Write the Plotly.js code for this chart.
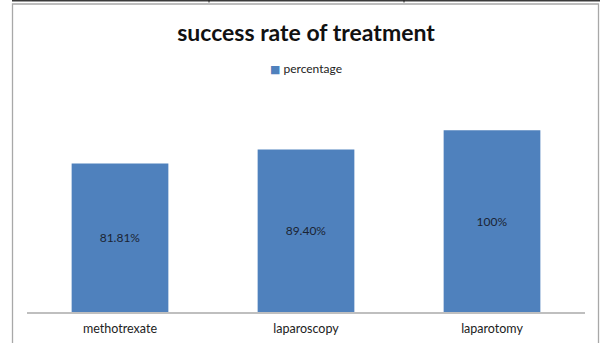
<!DOCTYPE html>
<html>
<head>
<meta charset="utf-8">
<script src="https://cdn.plot.ly/plotly-3.0.1.min.js"></script>
<style>
  html, body { margin: 0; padding: 0; background: #ffffff; }
  #chart { width: 604px; height: 343px; }
</style>
</head>
<body>
<div id="chart"></div>
<script>
// Treatment outcome data
const treatments = ['methotrexate', 'laparoscopy', 'laparotomy'];
const successRate = [81.81, 89.40, 100];
const seriesName = 'percentage';

const barColor = '#4F81BD';
const fontFamily = 'Lato, "Open Sans", sans-serif';

// Value labels shown inside each bar
const barLabels = successRate.map(v => (Number.isInteger(v) ? String(v) : v.toFixed(2)) + '%');

// Plot-area pixel geometry helpers (for the surrounding frame)
const W = 604, H = 343;
const M = { l: 27, r: 19, t: 94, b: 31 };
const plotW = W - M.l - M.r, plotH = H - M.t - M.b;
const px = x => (x - M.l) / plotW;
const py = y => (H - M.b - y) / plotH;

const traces = [
  {
    type: 'bar',
    x: treatments,
    y: successRate,
    name: seriesName,
    marker: { color: barColor, line: { width: 0 } },
    text: barLabels,
    textposition: 'inside',
    insidetextanchor: 'middle',
    textfont: { family: fontFamily, size: 12, color: '#1b2433' },
    hoverinfo: 'x+y'
  }
];

const layout = {
  width: W,
  height: H,
  margin: M,
  paper_bgcolor: '#ffffff',
  plot_bgcolor: '#ffffff',
  font: { family: fontFamily, color: '#222222', size: 12 },
  bargap: 0.48,
  showlegend: false,
  title: {
    text: '<b>success rate of treatment</b>',
    font: { family: fontFamily, size: 23, color: '#111111' },
    x: 0.5,
    xref: 'paper',
    xanchor: 'center',
    y: 1 - 33 / H,
    yref: 'container',
    yanchor: 'middle'
  },
  xaxis: {
    type: 'category',
    showline: true,
    linecolor: '#BFBFBF',
    linewidth: 1.5,
    showgrid: false,
    zeroline: false,
    ticks: '',
    ticklabelstandoff: 4,
    tickfont: { family: fontFamily, size: 12.5, color: '#222222' },
    fixedrange: true
  },
  yaxis: {
    range: [0, 120],
    showgrid: false,
    zeroline: false,
    showline: false,
    showticklabels: false,
    ticks: '',
    fixedrange: true
  },
  annotations: [
    // series key: small square swatch followed by the series name
    {
      xref: 'paper', yref: 'paper',
      x: 0.5, y: py(69), xanchor: 'center', yanchor: 'middle',
      showarrow: false,
      text: '<span style="color:' + barColor + ';font-family:DejaVu Sans;font-size:11px">■</span> ' + seriesName,
      font: { family: fontFamily, size: 12, color: '#222222' }
    }
  ],
  shapes: [
    // chart frame
    { type: 'rect', xref: 'paper', yref: 'paper',
      x0: px(12.5), x1: px(598.5), y0: py(350), y1: py(4),
      line: { color: '#A8A8A8', width: 1.3 }, fillcolor: 'rgba(0,0,0,0)', layer: 'below' },
    // dark rule along the top edge
    { type: 'line', xref: 'paper', yref: 'paper',
      x0: px(12), x1: px(600), y0: py(0.8), y1: py(0.8),
      line: { color: '#3a3a3a', width: 1.6 } },
    { type: 'line', xref: 'paper', yref: 'paper',
      x0: px(209), x1: px(209), y0: py(0), y1: py(2.5),
      line: { color: '#222222', width: 1 } },
    { type: 'line', xref: 'paper', yref: 'paper',
      x0: px(404), x1: px(404), y0: py(0), y1: py(2.5),
      line: { color: '#222222', width: 1 } }
  ]
};

Plotly.newPlot('chart', traces, layout, { displayModeBar: false, staticPlot: true });
</script>
</body>
</html>
